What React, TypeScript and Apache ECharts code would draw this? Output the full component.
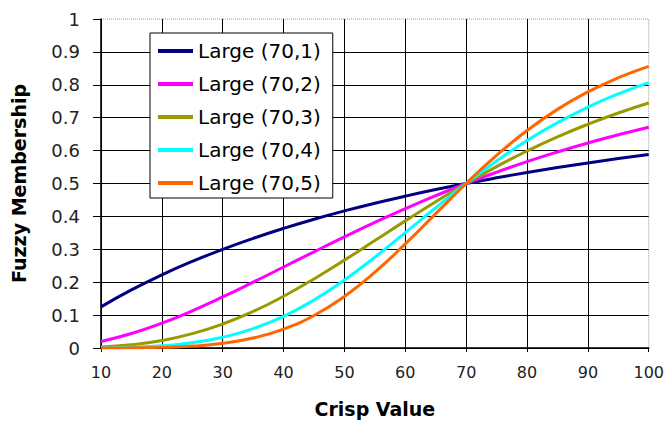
import React, { useEffect, useRef } from "react";
import * as echarts from "echarts";

const xValues = [10, 15, 20, 25, 30, 35, 40, 45, 50, 55, 60, 65, 70, 75, 80, 85, 90, 95, 100];
const large1 = [0.125, 0.1765, 0.2222, 0.2632, 0.3, 0.3333, 0.3636, 0.3913, 0.4167, 0.44, 0.4615, 0.4815, 0.5, 0.5172, 0.5333, 0.5484, 0.5625, 0.5758, 0.5882];
const large2 = [0.02, 0.0439, 0.0755, 0.1131, 0.1552, 0.2, 0.2462, 0.2924, 0.3378, 0.3817, 0.4235, 0.463, 0.5, 0.5344, 0.5664, 0.5959, 0.6231, 0.6481, 0.6711];
const large3 = [0.0029, 0.0097, 0.0228, 0.0436, 0.073, 0.1111, 0.1573, 0.2099, 0.2671, 0.3266, 0.3864, 0.4446, 0.5, 0.5515, 0.5988, 0.6417, 0.68, 0.7143, 0.7446];
const large4 = [0.0004, 0.0021, 0.0066, 0.016, 0.0326, 0.0588, 0.0964, 0.1459, 0.2065, 0.276, 0.3506, 0.4264, 0.5, 0.5685, 0.6305, 0.685, 0.7321, 0.7723, 0.8064];
const large5 = [0.0001, 0.0005, 0.0019, 0.0058, 0.0143, 0.0303, 0.0574, 0.0989, 0.1568, 0.2304, 0.3163, 0.4084, 0.5, 0.5854, 0.6609, 0.7253, 0.7784, 0.8215, 0.8561];
const seriesNames = ["Large (70,1)", "Large (70,2)", "Large (70,3)", "Large (70,4)", "Large (70,5)"];
const seriesColors = ["#000080", "#FF00FF", "#999900", "#00FFFF", "#FF6600"];
const seriesValues = [large1, large2, large3, large4, large5];

const FONT = "DejaVu Sans";

export default function App() {
  const ref = useRef<HTMLDivElement>(null);
  useEffect(() => {
    if (!ref.current) return;
    const chart = echarts.init(ref.current, null, { renderer: "svg" });
    chart.setOption({
      animation: false,
      backgroundColor: "#ffffff",
      textStyle: { fontFamily: FONT },
      grid: {
        left: 101,
        right: 18,
        top: 19,
        bottom: 70,
        show: true,
        borderColor: "#999999",
        borderWidth: 1,
        borderType: "dotted",
        backgroundColor: "transparent",
      },
      legend: {
        left: 150,
        top: 33,
        orient: "vertical",
        icon: "rect",
        itemWidth: 35,
        itemHeight: 4,
        itemGap: 13,
        padding: [8, 12, 5, 8],
        backgroundColor: "#ffffff",
        borderColor: "#000000",
        borderWidth: 1,
        textStyle: { fontFamily: FONT, fontSize: 20, lineHeight: 20, color: "#000" },
        data: seriesNames,
      },
      xAxis: {
        type: "value",
        min: 10,
        max: 100,
        interval: 10,
        name: "Crisp Value",
        nameLocation: "middle",
        nameGap: 51,
        nameTextStyle: { fontFamily: FONT, fontSize: 19, fontWeight: "bold", color: "#000" },
        axisLine: { show: true, lineStyle: { color: "#000", width: 1.5 } },
        axisTick: { show: true, length: 4, lineStyle: { color: "#000" } },
        axisLabel: { fontFamily: FONT, fontSize: 16, color: "#222", margin: 16 },
        splitLine: { show: true, showMaxLine: false, lineStyle: { color: "#000", width: 1 } },
      },
      yAxis: {
        type: "value",
        min: 0,
        max: 1,
        interval: 0.1,
        name: "Fuzzy Membership",
        nameLocation: "middle",
        nameGap: 73,
        nameTextStyle: { fontFamily: FONT, fontSize: 19, fontWeight: "bold", color: "#000" },
        axisLine: { show: true, lineStyle: { color: "#000", width: 1.5 } },
        axisTick: { show: true, length: 8, lineStyle: { color: "#000" } },
        axisLabel: { fontFamily: FONT, fontSize: 18, color: "#222", margin: 21 },
        splitLine: { show: true, showMaxLine: false, lineStyle: { color: "#000", width: 1 } },
      },
      series: seriesValues.map((vals, i) => ({
        name: seriesNames[i],
        type: "line",
        smooth: true,
        symbol: "none",
        color: seriesColors[i],
        lineStyle: { color: seriesColors[i], width: 3 },
        data: xValues.map((x, j) => [x, vals[j]]),
      })),
    });
    return () => chart.dispose();
  }, []);
  return (
    <div
      ref={ref}
      style={{ position: "absolute", left: 0, top: 0, width: 667, height: 423 }}
    />
  );
}
